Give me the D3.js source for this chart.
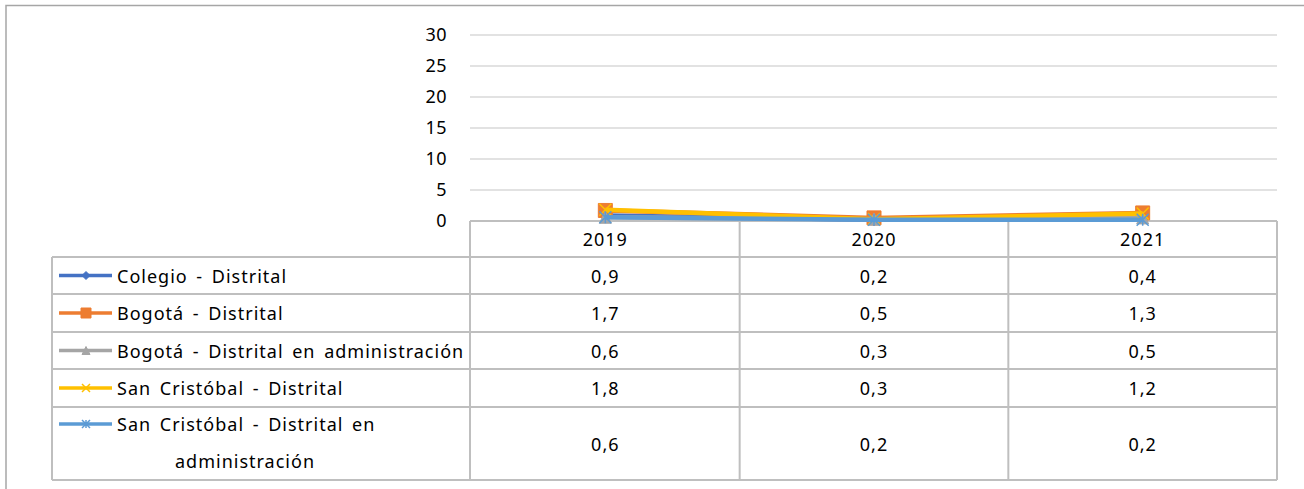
<!DOCTYPE html>
<html>
<head>
<meta charset="utf-8">
<script src="https://cdn.jsdelivr.net/npm/d3@7"></script>
<style>
  body { margin: 0; background: #fff; }
  svg text { font-family: "Noto Sans", "Open Sans", sans-serif; fill: #000; font-size: 18px; letter-spacing: 1px; word-spacing: 3px; }
</style>
</head>
<body>
<div id="chart"></div>
<script>
// chart data
var years = ['2019', '2020', '2021'];
var seriesNames = [
    'Colegio - Distrital',
    'Bogotá - Distrital',
    'Bogotá - Distrital en administración',
    'San Cristóbal - Distrital',
    'San Cristóbal - Distrital en administración'
];
var colegio = [0.9, 0.2, 0.4];
var bogota = [1.7, 0.5, 1.3];
var bogotaAdm = [0.6, 0.3, 0.5];
var sanCristobal = [1.8, 0.3, 1.2];
var sanCristobalAdm = [0.6, 0.2, 0.2];
var yTicks = [0, 5, 10, 15, 20, 25, 30];

var allValues = [colegio, bogota, bogotaAdm, sanCristobal, sanCristobalAdm];
var colors = ['#4472C4', '#ED7D31', '#A5A5A5', '#FFC000', '#5B9BD5'];
var markers = ['diamond', 'square', 'triangle', 'x', 'star'];

var width = 1304, height = 489;
var plotLeft = 471, plotRight = 1277, plotTop = 35, plotBase = 221;
var tableLeft = 52;
var rowEdges = [221, 257, 294, 332, 369, 407, 480];
var grid = '#d9d9d9', border = '#bfbfbf';

var svg = d3.select('#chart').append('svg')
    .attr('width', width).attr('height', height);

// outer frame
svg.append('path')
    .attr('d', 'M6,' + height + 'V5.5H' + width)
    .attr('fill', 'none').attr('stroke', '#a6a6a6').attr('stroke-width', 1.5);

var x = d3.scaleBand().domain(years).range([plotLeft, plotRight]);
var y = d3.scaleLinear().domain([0, 30]).range([plotBase, plotTop]);

// gridlines
svg.append('g').selectAll('line').data(yTicks.filter(function(d) { return d > 0; }))
    .enter().append('line')
    .attr('x1', plotLeft - 1).attr('x2', plotRight)
    .attr('y1', function(d) { return y(d); }).attr('y2', function(d) { return y(d); })
    .attr('stroke', grid).attr('stroke-width', 1.5);

// y axis labels
var yAxis = d3.axisLeft(y).tickValues(yTicks).tickSize(0).tickPadding(0);
var ya = svg.append('g').attr('transform', 'translate(447,0)').call(yAxis);
ya.select('.domain').remove();
ya.selectAll('text').attr('font-family', null).attr('font-size', null)
    .style('letter-spacing', '0.5px');

// data table grid
var t = svg.append('g').attr('stroke', border).attr('stroke-width', 2).attr('fill', 'none');
rowEdges.forEach(function(ry, i) {
    t.append('line')
        .attr('x1', i === 0 ? plotLeft - 1 : tableLeft).attr('x2', plotRight)
        .attr('y1', ry).attr('y2', ry);
});
t.append('line').attr('x1', tableLeft).attr('x2', tableLeft)
    .attr('y1', rowEdges[1]).attr('y2', rowEdges[6]);
[plotLeft - 1].concat(years.map(function(d) { return x(d) + x.bandwidth(); })).forEach(function(cx) {
    t.append('line').attr('x1', cx).attr('x2', cx)
        .attr('y1', rowEdges[0]).attr('y2', rowEdges[6]);
});

// header years
svg.append('g').selectAll('text').data(years).enter().append('text')
    .attr('x', function(d) { return x(d) + x.bandwidth() / 2; })
    .attr('y', (rowEdges[0] + rowEdges[1]) / 2 + 7)
    .attr('text-anchor', 'middle')
    .text(function(d) { return d; });

function fmt(v) { return String(v).replace('.', ','); }

function markerPath(type, s) {
    var h = s / 2;
    if (type === 'diamond') return 'M0,' + (-h) + 'L' + h + ',0L0,' + h + 'L' + (-h) + ',0Z';
    if (type === 'square') return 'M' + (-h) + ',' + (-h) + 'H' + h + 'V' + h + 'H' + (-h) + 'Z';
    if (type === 'triangle') return 'M0,' + (-h) + 'L' + h + ',' + h + 'L' + (-h) + ',' + h + 'Z';
    if (type === 'x') return 'M' + (-h) + ',' + (-h) + 'L' + h + ',' + h + 'M' + h + ',' + (-h) + 'L' + (-h) + ',' + h;
    return 'M' + (-h) + ',' + (-h) + 'L' + h + ',' + h + 'M' + h + ',' + (-h) + 'L' + (-h) + ',' + h + 'M0,' + (-h) + 'V' + h;
}
function drawMarker(g, type, color, s) {
    var filled = type === 'diamond' || type === 'square' || type === 'triangle';
    g.append('path').attr('d', markerPath(type, s))
        .attr('fill', filled ? color : 'none')
        .attr('stroke', color).attr('stroke-width', filled ? 1 : 1.5);
}

// rows: legend key + values
seriesNames.forEach(function(name, i) {
    var r0 = rowEdges[i + 1], r1 = rowEdges[i + 2];
    var mid = (r0 + r1) / 2;
    var two = i === 4;
    var ky = two ? r0 + 17 : mid;
    var row = svg.append('g');
    row.append('line').attr('x1', 59).attr('x2', 112).attr('y1', ky).attr('y2', ky)
        .attr('stroke', colors[i]).attr('stroke-width', 3.5);
    var m = row.append('g').attr('transform', 'translate(86,' + ky + ')');
    drawMarker(m, markers[i], colors[i], i === 1 ? 10 : 8);
    if (two) {
        row.append('text').attr('x', 117).attr('y', ky + 7)
            .text('San Cristóbal - Distrital en');
        row.append('text').attr('x', 245).attr('y', ky + 44).attr('text-anchor', 'middle')
            .text('administración');
    } else {
        row.append('text').attr('x', 117).attr('y', ky + 7).text(name);
    }
    row.selectAll('text.v').data(allValues[i]).enter().append('text').attr('class', 'v')
        .attr('x', function(d, j) { return x(years[j]) + x.bandwidth() / 2; })
        .attr('y', mid + 7).attr('text-anchor', 'middle')
        .text(fmt);
});

// lines
var line = d3.line()
    .x(function(d, j) { return x(years[j]) + x.bandwidth() / 2; })
    .y(function(d) { return y(d); });

allValues.forEach(function(vals, i) {
    var g = svg.append('g');
    g.append('path').datum(vals).attr('d', line)
        .attr('fill', 'none').attr('stroke', colors[i]).attr('stroke-width', 4.5)
        .attr('stroke-linejoin', 'round');
    vals.forEach(function(v, j) {
        var mg = g.append('g').attr('transform',
            'translate(' + (x(years[j]) + x.bandwidth() / 2) + ',' + y(v) + ')');
        drawMarker(mg, markers[i], colors[i], i === 1 ? 14 : 12);
    });
});
</script>
</body>
</html>
